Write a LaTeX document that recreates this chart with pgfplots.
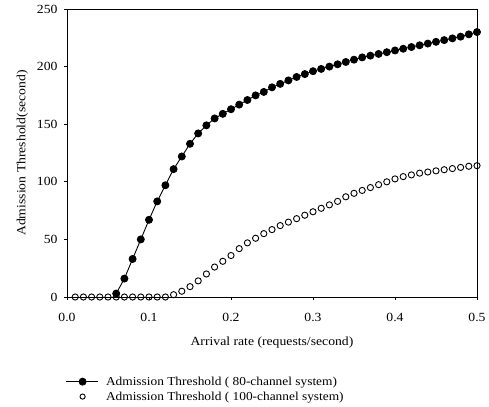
\documentclass[border=0pt]{standalone}
\usepackage{pgfplots}
\pgfplotsset{compat=1.18}
\usepackage{fontspec}
\setmainfont{Liberation Serif}[FakeStretch=1.1]
\pgfplotsset{
  linemark legend/.style={legend image code/.code={
    \draw[##1] (0bp,0bp) -- (32bp,0bp);
    \draw[##1, only marks] plot coordinates {(17bp,0bp)};}},
  markonly legend/.style={legend image code/.code={
    \draw[##1, only marks, mark size=2.6bp] plot coordinates {(17bp,0bp)};}},
}
\begin{document}
\begin{tikzpicture}
\path[use as bounding box] (-67bp,-110bp) rectangle (422bp,297bp);
\begin{axis}[
  at={(0,0)}, anchor=south west,
  scale only axis, width=410bp, height=288bp,
  xmin=0, xmax=0.5, ymin=0, ymax=250,
  xtick={0,0.1,0.2,0.3,0.4,0.5},
  xticklabels={0.0,0.1,0.2,0.3,0.4,0.5},
  ytick={0,50,100,150,200,250},
  xtick pos=bottom, ytick pos=left,
  axis line style={line width=1pt},
  tick align=outside, major tick length=3bp,
  tick style={line width=0.8pt, black},
  every tick label/.append style={font=\fontsize{12.5}{14}\selectfont},
  xticklabel style={yshift=-10bp},
  yticklabel style={xshift=-3bp},
  /pgf/number format/assume math mode=true,
  xlabel={Arrival rate (requests/second)},
  ylabel={Admission Threshold(second)},
  xlabel style={font=\fontsize{12.5}{14}\selectfont, yshift=-8bp},
  ylabel style={font=\fontsize{12.5}{14}\selectfont, yshift=2bp},
  legend style={draw=none, fill=none, at={(-0.005,-0.276)}, anchor=north west,
    font=\fontsize{12.2}{14}\selectfont, row sep=5bp, column sep=8bp,
    inner sep=0pt, nodes={inner sep=0pt}},
  legend cell align=left,
]
\addplot[black, line width=0.9pt, mark=*, mark size=3.5bp, mark options={fill=black}, linemark legend] coordinates {
(0.06,3)(0.07,16)(0.08,33)(0.09,50)
(0.10,67)(0.11,83)(0.12,97)(0.13,111)(0.14,122)(0.15,133)(0.16,142)(0.17,149)(0.18,155)(0.19,159)
(0.20,163)(0.21,167)(0.22,171)(0.23,175)(0.24,178)(0.25,182)(0.26,185)(0.27,188)(0.28,191)(0.29,193.5)
(0.30,196)(0.31,198)(0.32,200)(0.33,202)(0.34,204)(0.35,206)(0.36,208)(0.37,209.5)(0.38,211)(0.39,212.5)
(0.40,214)(0.41,215.5)(0.42,217)(0.43,218.5)(0.44,220)(0.45,221.5)(0.46,223)(0.47,224.5)(0.48,226)(0.49,228)
(0.50,230)};
\addlegendentry{Admission Threshold ( 80-channel system)}
\addplot[black, only marks, mark=o, mark size=3.1bp, mark options={line width=0.9pt, fill=white}, markonly legend] coordinates {
(0.01,0)(0.02,0)(0.03,0)(0.04,0)(0.05,0)(0.06,0)(0.07,0)(0.08,0)(0.09,0)
(0.10,0)(0.11,0)(0.12,0)(0.13,2)(0.14,5)(0.15,9)(0.16,14)(0.17,20)(0.18,26)(0.19,31)
(0.20,36)(0.21,42)(0.22,47)(0.23,51)(0.24,55)(0.25,58.5)(0.26,62)(0.27,65)(0.28,68)(0.29,71)
(0.30,74)(0.31,77)(0.32,80)(0.33,83)(0.34,87)(0.35,90)(0.36,92.5)(0.37,95)(0.38,97.5)(0.39,100)
(0.40,102.5)(0.41,104.5)(0.42,106)(0.43,107.5)(0.44,108.5)(0.45,109.5)(0.46,110.5)(0.47,111.5)(0.48,112.5)(0.49,113.5)
(0.50,114)};
\addlegendentry{Admission Threshold ( 100-channel system)}
\end{axis}
\end{tikzpicture}
\end{document}
